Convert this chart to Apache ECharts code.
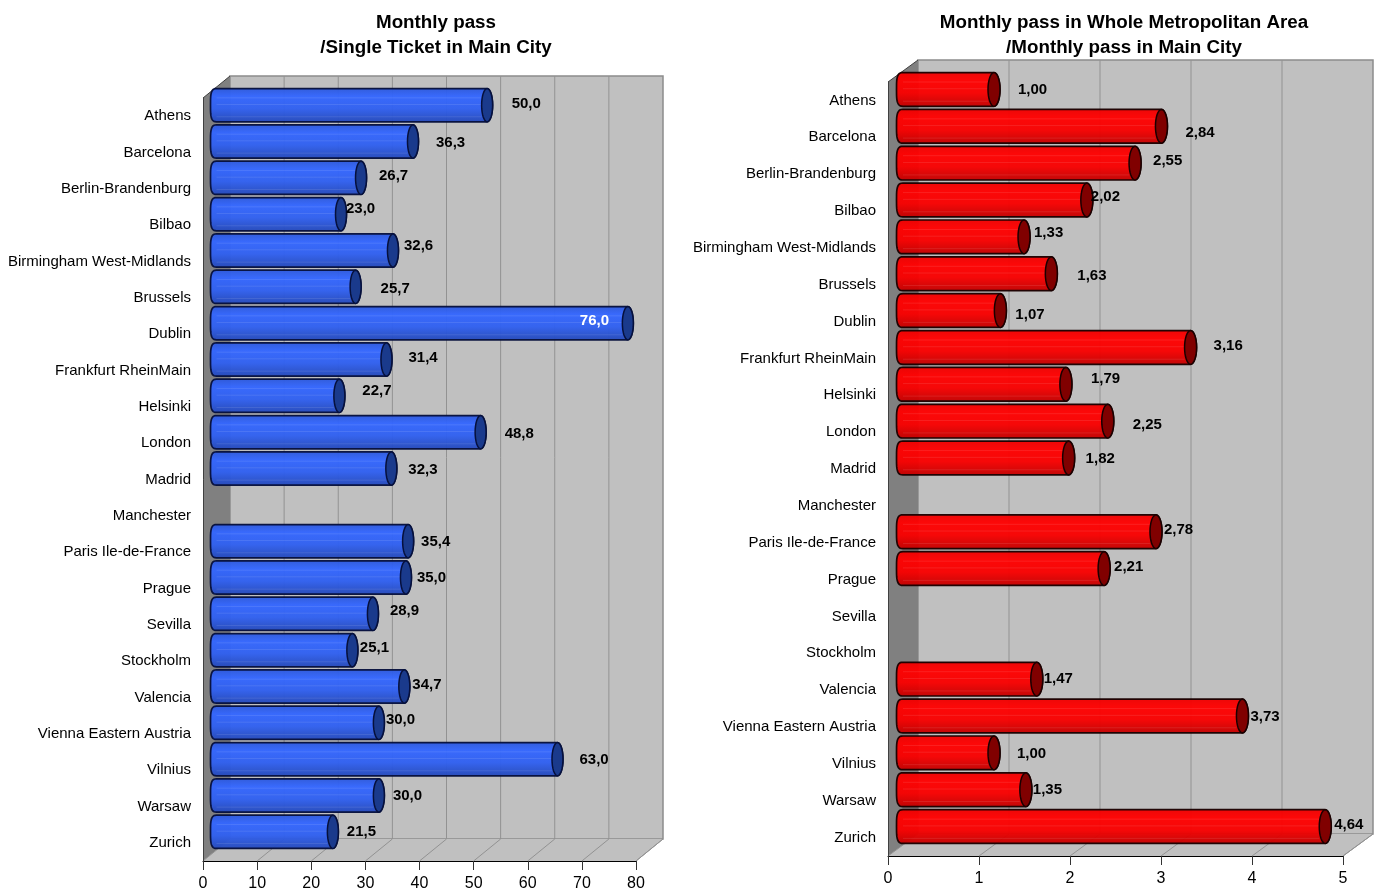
<!DOCTYPE html>
<html><head><meta charset="utf-8">
<style>html,body{margin:0;padding:0;background:#fff}#c{width:1374px;height:888px}</style>
<script src="https://cdn.jsdelivr.net/npm/echarts@6/dist/echarts.min.js"></script>
</head><body><div id="c"></div>
<script>
const citiesLeft = ['Athens','Barcelona','Berlin-Brandenburg','Bilbao','Birmingham West-Midlands','Brussels','Dublin','Frankfurt RheinMain','Helsinki','London','Madrid','Manchester','Paris Ile-de-France','Prague','Sevilla','Stockholm','Valencia','Vienna Eastern Austria','Vilnius','Warsaw','Zurich'];
const citiesRight = citiesLeft;
const singleTicketRatio = [50.0,36.3,26.7,23.0,32.6,25.7,76.0,31.4,22.7,48.8,32.3,null,35.4,35.0,28.9,25.1,34.7,30.0,63.0,30.0,21.5];
const metroRatio = [1.00,2.84,2.55,2.02,1.33,1.63,1.07,3.16,1.79,2.25,1.82,null,2.78,2.21,null,null,1.47,3.73,1.00,1.35,4.64];
const leftTicks = [0,10,20,30,40,50,60,70,80];
const rightTicks = [0,1,2,3,4,5];
const titleLeft = 'Monthly pass\n/Single Ticket in Main City';
const titleRight = 'Monthly pass in Whole Metropolitan Area\n/Monthly pass in Main City';
// hand-placed value label nudges (px) relative to the bar end
const leftLabelDx = [24.5,23,18,5,11,25,-48,22,23,24,17,0,13,11,17,7.5,8,7,22,14,14];
const leftLabelDy = [-2,1,-2,-5.6,-5,2,-3,-2,-5,1,1,0,0,0,-3,-3,-2,-3,0,0,0];
const rightLabelDx = [24,24,18,4,10,26,15,23,25,25,17,0,8,10,0,0,7,8,23,7,9];
const rightLabelDy = [0,6,-3,-4,-4,2,4,-2,-6,3,0,0,-2,-2,0,0,-1,0,1,0,-2];

const FONT = '"Liberation Sans", Arial, sans-serif';
const blueGrad = {type:'linear',x:0,y:0,x2:0,y2:1,colorStops:[
  {offset:0,color:'#2c58da'},{offset:.25,color:'#3366ff'},{offset:.6,color:'#3060f0'},{offset:1,color:'#2448b8'}]};
const redGrad = {type:'linear',x:0,y:0,x2:0,y2:1,colorStops:[
  {offset:0,color:'#ee0000'},{offset:.25,color:'#ff0000'},{offset:.6,color:'#f80000'},{offset:1,color:'#c00000'}]};

function arc(cx,cy,rx,ry,a0,a1,n){const p=[];for(let i=0;i<=n;i++){const a=a0+(a1-a0)*i/n;p.push([cx+rx*Math.cos(a),cy+ry*Math.sin(a)]);}return p;}
function squircle(cx,cy,rx,ry,a0,a1,n){const p=[];for(let i=0;i<=n;i++){const a=a0+(a1-a0)*i/n;const c=Math.cos(a),s=Math.sin(a);
  p.push([cx+rx*Math.sign(c)*Math.pow(Math.abs(c),.7),cy+ry*Math.sign(s)*Math.pow(Math.abs(s),.55)]);}return p;}

function sceneSeries(idx,ticks,dx,dy){
  return {type:'custom',xAxisIndex:idx,yAxisIndex:idx,z:1,silent:true,data:[[0,0]],
    renderItem(params,api){
      const s=params.coordSys,x0=s.x,x1=s.x+s.width,y0=s.y,y1=s.y+s.height;
      const kids=[
        {type:'polygon',shape:{points:[[x0+dx,y0-dy],[x1+dx,y0-dy],[x1+dx,y1-dy],[x0+dx,y1-dy]]},style:{fill:'#c0c0c0',stroke:'#8c8c8c',lineWidth:1.5}},
        {type:'polygon',shape:{points:[[x0,y1],[x0+dx,y1-dy],[x1+dx,y1-dy],[x1,y1]]},style:{fill:'#c0c0c0'}},
        {type:'polygon',shape:{points:[[x0,y0],[x0+dx,y0-dy],[x0+dx,y1-dy],[x0,y1]]},style:{fill:'#808080'}},
        {type:'line',shape:{x1:x0,y1:y0,x2:x0+dx,y2:y0-dy},style:{stroke:'#404040',lineWidth:1}}
      ];
      ticks.forEach(t=>{
        const x=api.coord([t,0])[0];
        if(t>0&&t<ticks[ticks.length-1]) kids.push({type:'line',shape:{x1:x+dx,y1:y0-dy,x2:x+dx,y2:y1-dy},style:{stroke:'#929292',lineWidth:1}});
        kids.push({type:'line',shape:{x1:x,y1:y1,x2:x+dx,y2:y1-dy},style:{stroke:'#929292',lineWidth:1}});
      });
      kids.push({type:'line',shape:{x1:x1,y1:y1,x2:x1+dx,y2:y1-dy},style:{stroke:'#929292',lineWidth:1}});
      return {type:'group',children:kids};
    }};
}
function barSeries(idx,vals,dx,dy,rx,grad,capColor,edge,highlight){
  return {type:'custom',xAxisIndex:idx,yAxisIndex:idx,z:4,silent:true,
    data:vals.map((v,i)=>[v,i]),encode:{x:0,y:1},
    renderItem(params,api){
      const v=api.value(0); if(v==null||isNaN(v)) return;
      const base=api.coord([0,api.value(1)]),end=api.coord([v,api.value(1)]);
      const h=api.size([0,1])[1]*.915,ry=h/2;
      const xa=base[0]+dx,xb=end[0]+dx,cy=base[1]-dy;
      const body=[].concat(squircle(xa,cy,rx+.5,ry,-Math.PI/2,-3*Math.PI/2,22),arc(xb,cy,rx,ry,Math.PI/2,-Math.PI/2,14));
      const kids=[{type:'polygon',shape:{points:body},style:{fill:grad,stroke:edge,lineWidth:1.7,opacity:.96}}];
      [.28,.48,.85].forEach(f=>{const y=cy-ry+2*ry*f;kids.push({type:'line',shape:{x1:xa,y1:y,x2:xb-rx,y2:y},style:{stroke:highlight,lineWidth:1}});});
      kids.push({type:'polygon',shape:{points:arc(xb,cy,rx,ry,0,2*Math.PI,32)},style:{fill:capColor,stroke:edge,lineWidth:1.5}});
      return {type:'group',children:kids};
    }};
}
function labelSeries(idx,vals,ddx,ddy,depthX,depthY,digits,whiteAt){
  return {type:'custom',xAxisIndex:idx,yAxisIndex:idx,z:5,silent:true,
    data:vals.map((v,i)=>[v,i]),encode:{x:0,y:1},
    renderItem(params,api){
      const v=api.value(0); if(v==null||isNaN(v)) return;
      const i=api.value(1),p=api.coord([v,i]);
      return {type:'text',style:{x:p[0]+depthX+ddx[i],y:p[1]-depthY+ddy[i]+.5,text:v.toFixed(digits).replace('.',','),
        fill:i===whiteAt?'#fff':'#000',font:'bold 15px '+FONT,textAlign:'left',textVerticalAlign:'middle'}};
    }};
}
function yAxis(idx,cats){
  return {type:'category',gridIndex:idx,inverse:true,data:cats,z:3,
    axisLine:{lineStyle:{color:'#404040',width:1}},
    axisTick:{alignWithLabel:false,length:9,lineStyle:{color:'#404040',width:1}},
    axisLabel:{margin:12,color:'#000',fontFamily:FONT,fontSize:15,interval:0,padding:[1,0,0,0]}};
}
function xAxis(idx,max,interval){
  return {type:'value',gridIndex:idx,min:0,max,interval,z:3,splitLine:{show:false},
    axisLine:{show:true,lineStyle:{color:'#000',width:1}},
    axisTick:{show:true,length:9,lineStyle:{color:'#333',width:1}},
    axisLabel:{margin:15,color:'#000',fontFamily:FONT,fontSize:16,showMaxLabel:true,showMinLabel:true}};
}
const titleStyle={fontFamily:FONT,fontWeight:'bold',fontSize:18.8,lineHeight:25,color:'#000'};
const chart=echarts.init(document.getElementById('c'),null,{renderer:'canvas'});
chart.setOption({
  animation:false,backgroundColor:'#fff',
  title:[
    {text:titleLeft,left:436,top:10,textAlign:'center',textStyle:titleStyle,padding:0},
    {text:titleRight,left:1124,top:10,textAlign:'center',textStyle:titleStyle,padding:0}
  ],
  grid:[
    {left:203,top:98,width:433,height:763,outerBoundsMode:'none'},
    {left:888,top:82,width:455,height:774,outerBoundsMode:'none'}
  ],
  xAxis:[xAxis(0,80,10),xAxis(1,5,1)],
  yAxis:[yAxis(0,citiesLeft),yAxis(1,citiesRight)],
  series:[
    sceneSeries(0,leftTicks,27,22),
    barSeries(0,singleTicketRatio,13.5,11,5.5,blueGrad,'#1a3a8c','#06103c','rgba(255,255,255,.1)'),
    labelSeries(0,singleTicketRatio,leftLabelDx,leftLabelDy,13.5,11,1,6),
    sceneSeries(1,rightTicks,30,22),
    barSeries(1,metroRatio,15,11,6,redGrad,'#800000','#1a0000','rgba(255,255,255,.1)'),
    labelSeries(1,metroRatio,rightLabelDx,rightLabelDy,15,11,2,-1)
  ]
});
</script></body></html>
